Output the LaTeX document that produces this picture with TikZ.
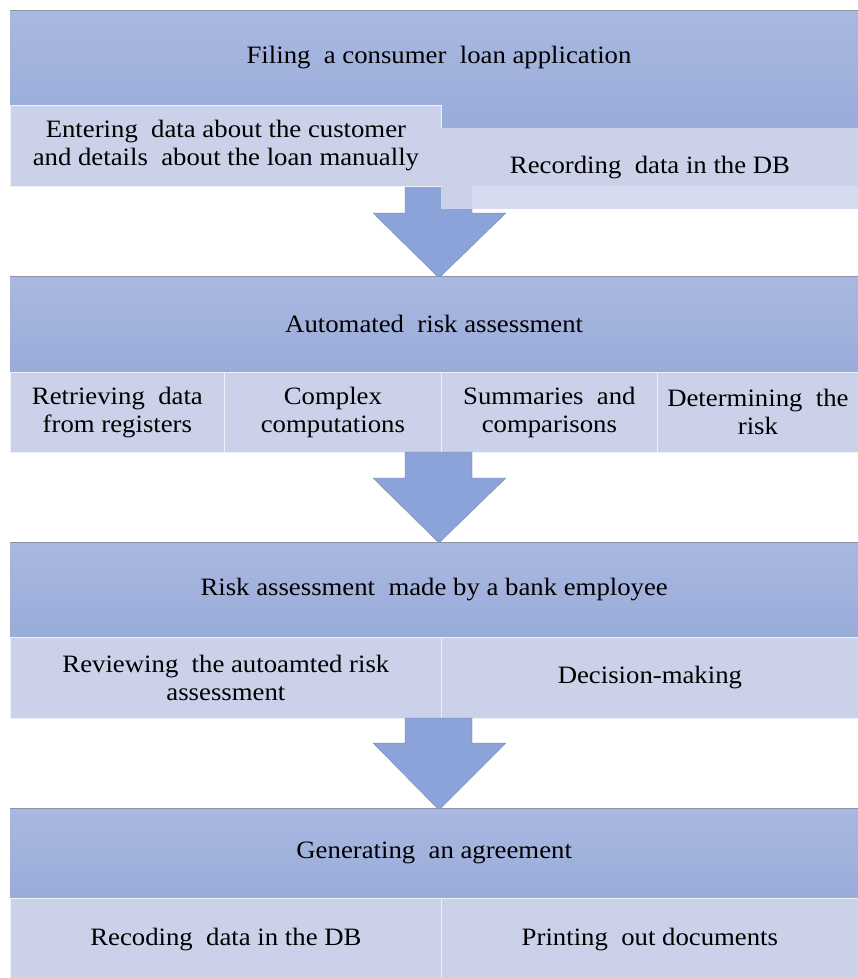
\documentclass[tikz,border=0pt]{standalone}
\usepackage{fontspec}
\setmainfont{Liberation Serif}
\newfontfamily\tnr[FakeStretch=1.07]{Liberation Serif}
\definecolor{hdrtop}{HTML}{AAB8E1}
\definecolor{hdrbot}{HTML}{98ACD9}
\definecolor{subfill}{HTML}{CBD1E9}
\definecolor{sublight}{HTML}{D6DCEF}
\definecolor{arrowfill}{HTML}{8CA3D9}
\definecolor{topline}{HTML}{8A94A8}
\tikzset{
  txt/.style={font=\tnr\fontsize{25}{28}\selectfont, text=black},
  hdr/.style={rectangle, inner sep=0pt, top color=hdrtop, bottom color=hdrbot, minimum width=848pt, anchor=north west, txt},
  hdrtext/.style={inner sep=0pt, txt},
  cell/.style={rectangle, inner sep=0pt, fill=subfill, draw=white!70!subfill, line width=0.8pt, anchor=north west, align=center, txt},
  blockarrow/.style={fill=arrowfill, draw=arrowfill!80!black, line width=0.3pt},
  hline/.style={draw=topline, line width=1pt}
}
\begin{document}
\begin{tikzpicture}[x=1pt,y=-1pt]
\useasboundingbox[fill=white] (0,0) rectangle (858,978);

% ---------- Block 1 ----------
\node[hdr, minimum height=118pt] (h1) at (10,10) {};
\draw[hline] (h1.north west) -- (h1.north east);
\node[hdrtext] (h1t) at (439,58) {Filing\ \ a consumer\ \ loan application};
% arrow 1 (behind right cell)
\coordinate (a1) at (439,278);
\fill[blockarrow] (405,186) -- (472,186) -- (472,213) -- (506,213) -- (a1) -- (373,213) -- (405,213) -- cycle;
\node[cell, minimum width=431pt, minimum height=81pt] (c11) at (10,105)
  {Entering\ \ data about the customer\\and details\ \ about the loan manually};
\node[cell, minimum width=417pt, minimum height=81pt, draw=none] (c12) at (441,128) {};
\fill[sublight] (472,186) rectangle (858,209);
\node[hdrtext] (c12t) at (650,168) {Recording\ \ data in the DB};

% ---------- Block 2 ----------
\node[hdr, minimum height=96pt] (h2) at (10,276) {Automated\ \ risk assessment};
\draw[hline] (h2.north west) -- (h2.north east);
\node[cell, minimum width=214pt, minimum height=80pt] (c21) at (10,372) {Retrieving\ \ data\\from registers};
\node[cell, minimum width=217pt, minimum height=80pt] (c22) at (224,372) {Complex\\computations};
\node[cell, minimum width=216pt, minimum height=80pt] (c23) at (441,372) {Summaries\ \ and\\comparisons};
\node[cell, minimum width=201pt, minimum height=80pt] (c24) at (657,372) {Determining\ \ the\\risk};
\coordinate (a2) at (439,543);
\fill[blockarrow] (405,452) -- (472,452) -- (472,478) -- (506,478) -- (a2) -- (373,478) -- (405,478) -- cycle;

% ---------- Block 3 ----------
\node[hdr, minimum height=95pt] (h3) at (10,542) {Risk\ assessment\ \ made by a bank employee};
\draw[hline] (h3.north west) -- (h3.north east);
\node[cell, minimum width=431pt, minimum height=81pt] (c31) at (10,637) {Reviewing\ \ the autoamted risk\\assessment};
\node[cell, minimum width=417pt, minimum height=81pt] (c32) at (441,637) {Decision-making};
\coordinate (a3) at (439,810);
\fill[blockarrow] (405,718) -- (472,718) -- (472,743) -- (506,743) -- (a3) -- (373,743) -- (405,743) -- cycle;

% ---------- Block 4 ----------
\node[hdr, minimum height=90pt] (h4) at (10,808) {Generating\ \ an agreement};
\draw[hline] (h4.north west) -- (h4.north east);
\node[cell, minimum width=431pt, minimum height=82pt] (c41) at (10,898) {Recoding\ \ data in the DB};
\node[cell, minimum width=417pt, minimum height=82pt] (c42) at (441,898) {Printing\ \ out documents};
\end{tikzpicture}
\end{document}
